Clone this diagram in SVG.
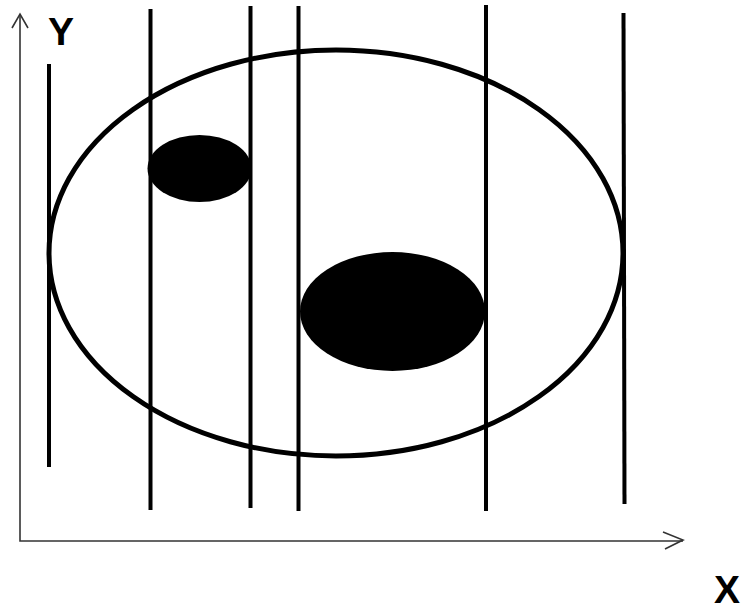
<svg xmlns="http://www.w3.org/2000/svg" width="742" height="610" viewBox="0 0 742 610">
<style>
.axis{stroke:#333;stroke-width:1.6;fill:none}
.vline{stroke:#000;stroke-width:4;stroke-linecap:butt}
.lbl{font-family:"Liberation Sans",Arial,sans-serif;font-weight:bold;font-size:39px;fill:#000}
</style>
<rect width="742" height="610" fill="#fff"/>
<g id="axes">
<polyline class="axis" points="20,14 20,541 683,541"/>
<polyline class="axis" points="12,28 20,14 28,28"/>
<polyline class="axis" points="663,532 683,540 665,549"/>
</g>
<text id="label-y" class="lbl" x="48" y="45">Y</text>
<text id="label-x" class="lbl" x="714" y="603">X</text>
<g id="big-ellipse">
<ellipse cx="336" cy="253" rx="287" ry="203" fill="none" stroke="#000" stroke-width="5"/>
</g>
<g id="small-blob">
<ellipse cx="199.5" cy="168.5" rx="52" ry="33.5" fill="#000"/>
</g>
<g id="large-blob">
<ellipse cx="392.5" cy="311.5" rx="92.5" ry="59.5" fill="#000"/>
</g>
<g id="lines">
<line class="vline" x1="49" y1="64" x2="49" y2="467"/>
<line class="vline" x1="150.5" y1="9" x2="150.5" y2="510"/>
<line class="vline" x1="250.5" y1="6" x2="250.5" y2="508"/>
<line class="vline" x1="298.5" y1="6" x2="298.5" y2="511"/>
<line class="vline" x1="486" y1="5" x2="486" y2="511"/>
<line class="vline" x1="623.5" y1="13" x2="624.5" y2="504"/>
</g>
</svg>
